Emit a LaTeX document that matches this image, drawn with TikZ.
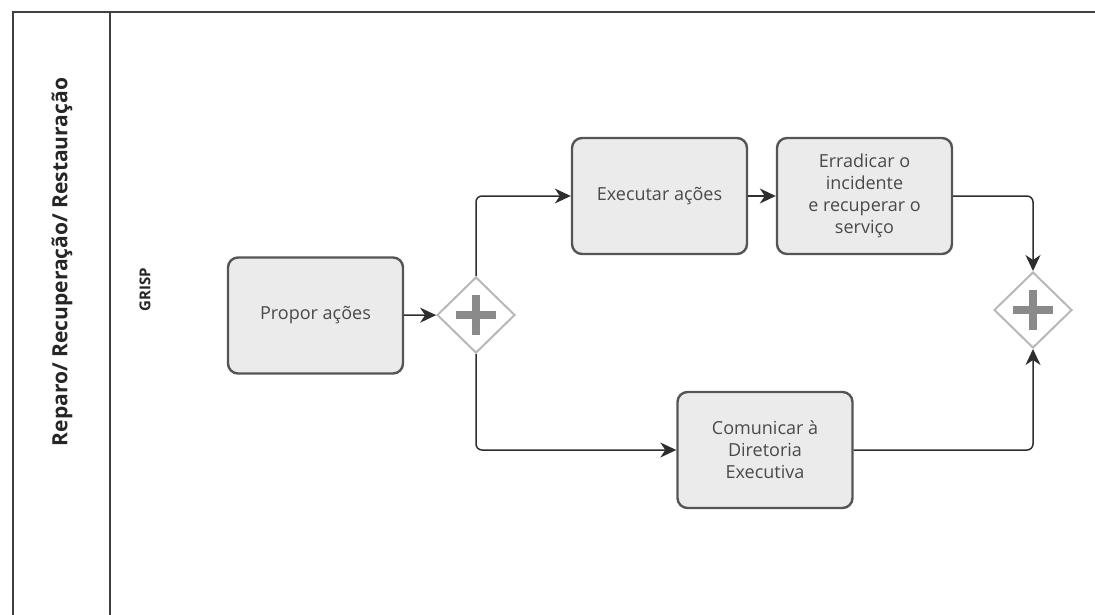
\documentclass[tikz,border=0pt]{standalone}
\usepackage{fontspec}
\setmainfont{Open Sans}
\usetikzlibrary{shapes.geometric,arrows.meta}
\definecolor{framec}{HTML}{404040}
\definecolor{taskborder}{HTML}{555555}
\definecolor{taskfill}{HTML}{EBEBEB}
\definecolor{tasktext}{HTML}{4A4A4A}
\definecolor{gateborder}{HTML}{B8B8B8}
\definecolor{plusc}{HTML}{8A8A8A}
\definecolor{connc}{HTML}{2E2E2E}
\tikzset{
  task/.style={draw=taskborder, line width=2.4pt, fill=taskfill, rounded corners=10pt,
    minimum width=175pt, minimum height=116pt, inner sep=2pt, align=center,
    text=tasktext, font=\fontsize{18}{22}\selectfont},
  gateway/.style={diamond, draw=gateborder, line width=2pt, fill=white,
    minimum width=78pt, minimum height=76pt, inner sep=0pt,
    path picture={
      \draw[line width=8pt, plusc] ([xshift=-20pt]path picture bounding box.center) -- ([xshift=20pt]path picture bounding box.center);
      \draw[line width=8pt, plusc] ([yshift=-20pt]path picture bounding box.center) -- ([yshift=20pt]path picture bounding box.center);
    }},
  conn/.style={draw=connc, line width=1.5pt, rounded corners=6pt,
    -{Stealth[length=16pt, width=15pt, inset=5pt]}},
  frameline/.style={draw=framec, line width=1.6pt},
  lanetitle/.style={rotate=90, font=\bfseries\fontsize{21}{24}\selectfont, text=black!85},
  lanename/.style={rotate=90, font=\bfseries\fontsize{15}{17}\selectfont, text=black!85}
}
\begin{document}
\begin{tikzpicture}[x=1pt,y=-1pt]
\useasboundingbox (0,0) rectangle (1095,615);
% frame
\coordinate (tl) at (13,12);
\coordinate (tr) at (1095,12);
\coordinate (bl) at (13,615);
\coordinate (dt) at (110,12);
\coordinate (db) at (110,615);
\draw[frameline] (tr) -- (tl) -- (bl);
\draw[frameline] (dt) -- (db);
% lane labels
\node[lanetitle] (title) at (62,262) {Reparo/ Recuperação/ Restauração};
\node[lanename] (grisp) at (145,290) {GRISP};
% tasks
\node[task] (prop) at (315.5,315.5) {Propor ações};
\node[task] (exec) at (659.5,196) {Executar ações};
\node[task] (erra) at (864.5,196) {Erradicar o\\incidente\\e recuperar o\\serviço};
\node[task] (comu) at (765,450) {Comunicar à\\Diretoria\\Executiva};
% gateways
\node[gateway] (g1) at (476,315) {};
\node[gateway] (g2) at (1033,310) {};
% connectors
\draw[conn] (prop) -- (g1);
\draw[conn] (g1.north) |- (exec.west);
\draw[conn] (g1.south) |- (comu.west);
\draw[conn] (exec) -- (erra);
\draw[conn] (erra.east) -| (g2.north);
\draw[conn] (comu.east) -| (g2.south);
\end{tikzpicture}
\end{document}
